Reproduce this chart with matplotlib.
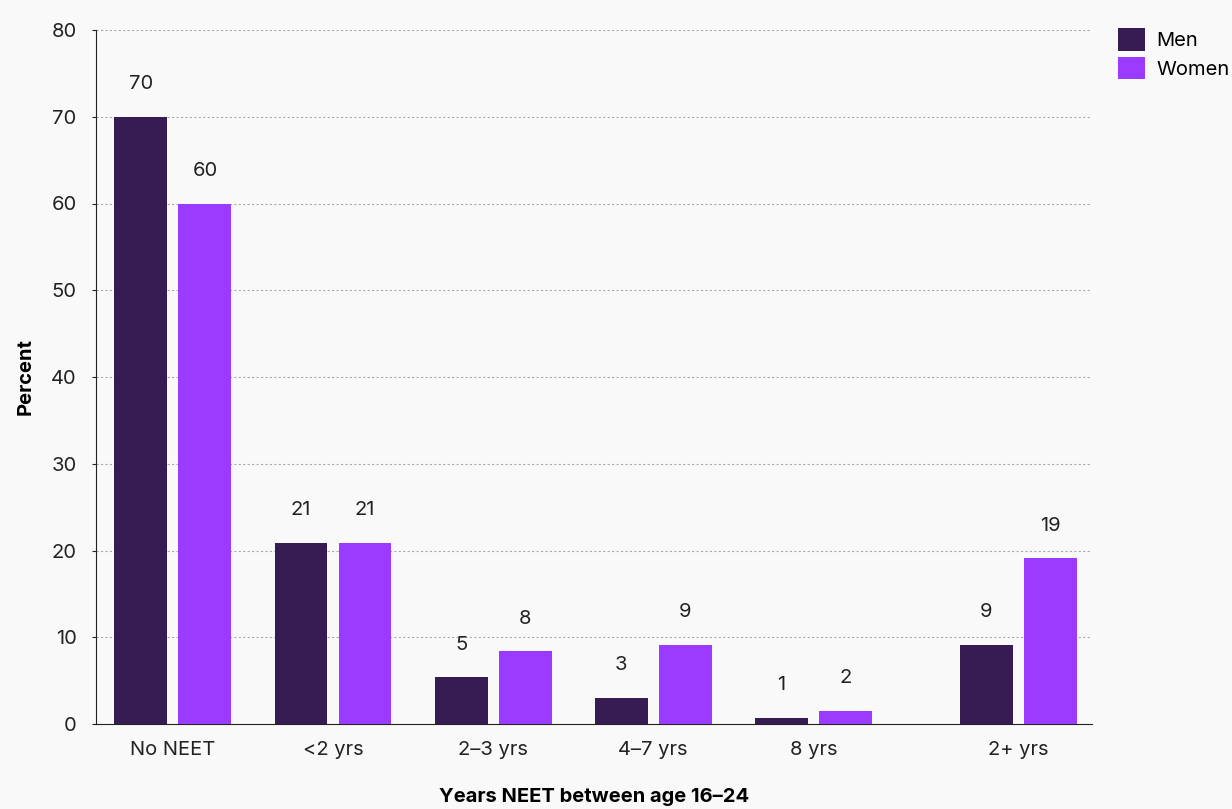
import matplotlib.pyplot as plt
import numpy as np

plt.rcParams['font.family'] = ['Inter', 'DejaVu Sans']

categories = ['No NEET', '<2 yrs', '2–3 yrs', '4–7 yrs', '8 yrs', '2+ yrs']
# last group sits a little further right, apart from the others
positions = [0, 1, 2, 3, 4, 5.28]
men = [70, 20.9, 5.4, 3.0, 0.7, 9.1]
women = [60, 20.9, 8.4, 9.1, 1.5, 19.1]
yticks = [0, 10, 20, 30, 40, 50, 60, 70, 80]

men_color = '#361c52'
women_color = '#9b3bff'
bg = '#f9f9f9'
txt = '#222222'
fs = 14.5

fig = plt.figure(figsize=(12.32, 8.09), dpi=100, facecolor=bg)
ax = fig.add_axes([96 / 1232, 1 - 724 / 809, (1092 - 96) / 1232, (724 - 30) / 809])
ax.set_facecolor(bg)

x = np.array(positions)
w = 0.33
off = 0.2
b1 = ax.bar(x - off, men, w, color=men_color, label='Men', zorder=3)
b2 = ax.bar(x + off, women, w, color=women_color, label='Women', zorder=3)

for bars, vals in ((b1, men), (b2, women)):
    for bar, v in zip(bars, vals):
        ax.annotate(f'{round(v)}', (bar.get_x() + bar.get_width() / 2, v),
                    xytext=(0, 17), textcoords='offset points',
                    ha='center', va='bottom', fontsize=fs, color=txt)

ax.set_xlim(-0.48, 5.74)
ax.set_ylim(0, 80)
ax.set_yticks(yticks)
ax.set_xticks(positions)
ax.set_xticklabels(categories)
ax.tick_params(axis='y', length=3, pad=11, labelsize=fs, colors=txt)
ax.tick_params(axis='x', length=0, pad=12, labelsize=fs, colors=txt)
ax.yaxis.grid(True, linestyle=(0, (2, 2)), color='#aaaaaa', linewidth=0.8, zorder=0)

for s in ['top', 'right']:
    ax.spines[s].set_visible(False)
ax.spines['left'].set_color(txt)
ax.spines['bottom'].set_color(txt)

ax.set_ylabel('Percent', fontsize=14.5, fontweight='bold', labelpad=12)
ax.set_xlabel('Years NEET between age 16–24', fontsize=14.5, fontweight='bold', labelpad=21)

fig.legend(handles=[b1, b2], loc='upper left', bbox_to_anchor=(1110 / 1232, 1 - 20 / 809),
           frameon=False, fontsize=fs, handlelength=1.35, handleheight=1.35,
           handletextpad=0.55, labelspacing=0.3, borderaxespad=0)

fig.savefig('out.png', dpi=100, facecolor=bg)
